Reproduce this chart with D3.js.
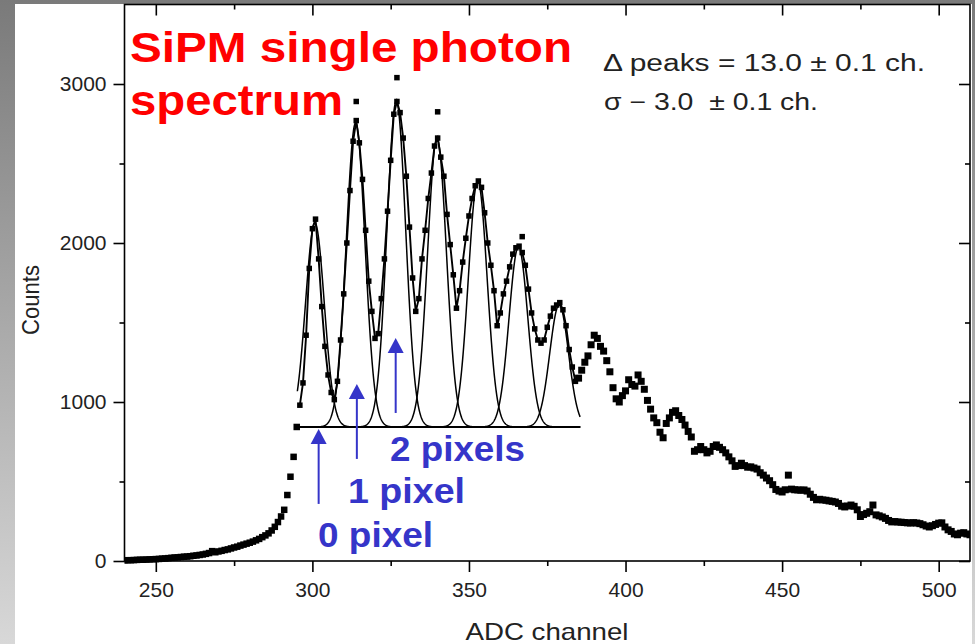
<!DOCTYPE html>
<html><head><meta charset="utf-8">
<script src="https://cdn.jsdelivr.net/npm/d3@7"></script>
<style>html,body{margin:0;padding:0;background:#fff;} svg{display:block;}</style>
</head><body><svg id="chart" width="975" height="644"></svg>
<script>
// ---------- data ----------
const xTicks = [250, 300, 350, 400, 450, 500];
const xMinorTicks = [275, 325, 375, 425, 475];
const yTicks = [0, 1000, 2000, 3000];
const yMinorTicks = [500, 1500, 2500];

// full spectrum below the fit region (channels 240..295)
const spectrumLowStart = 240;
const spectrumLowCounts = [4,5,5,6,7,8,8,9,10,11,12,13,15,16,18,20,22,23,25,27,28,30,33,35,38,41,45,50,62,55,60,64,69,73,79,85,90,97,103,109,115,122,130,139,150,161,174,192,215,245,280,322,415,530,655,843];

// fit region data (line + symbols), channels 296..384
const peakStart = 296;
const peakCounts = [980,1120,1420,1840,2090,2150,1900,1600,1350,1170,1060,1015,
  1130,1390,1680,2000,2330,2640,2770,2630,2400,2080,1760,1570,1400,
  1430,1650,1900,2200,2520,2810,2890,2820,2660,2420,2100,1780,1570,
  1650,1900,2080,2280,2440,2610,2660,2540,2420,2180,1990,1800,1590,
  1700,1880,2030,2170,2280,2360,2390,2350,2190,2000,1860,1700,1480,
  1560,1680,1760,1850,1930,1970,1980,1940,1860,1710,1560,1460,1390,1370,
  1390,1470,1540,1590,1610,1625,1580,1480,1330,1220,1130];

// spectrum tail, channels 385..510
const tailStart = 385;
const tailCounts = [1150,1200,1250,1290,1360,1420,1400,1350,1320,1260,1190,1090,1020,1000,1040,1070,
  1140,1110,1100,1170,1130,1080,1010,955,900,870,810,775,865,900,935,945,915,890,855,815,780,
  690,700,720,700,680,690,720,730,715,700,680,655,630,595,600,615,600,590,592,585,578,555,540,
  522,505,480,450,440,434,448,540,452,448,447,445,447,440,420,400,385,388,384,382,378,375,371,
  362,345,340,346,352,344,322,280,292,300,310,352,290,284,277,268,255,246,248,245,244,242,240,
  239,241,239,235,228,220,214,222,230,238,240,214,196,186,170,165,175,178,170,165];

// isolated points above some peaks
const extraChannels = [314, 327, 340, 367];
const extraCounts = [2890, 3040, 2825, 2040];

// gaussian fit parameters
const peakCenters = [300.8, 313.8, 326.8, 339.8, 352.8, 365.8, 378.8];
const peakAmplitudes = [1283, 1912, 2050, 1817, 1547, 1132, 767];
const fitSigma = 3.0;
const fitBaseline = 843;
const fitRange = [295.2, 385.5];

// arrows (channel, tip count, tail count)
const arrowChannels = [302.0, 314.2, 326.6];
const arrowTipCounts = [830, 1113, 1403];
const arrowTailCounts = [359, 642, 931];

// ---------- drawing ----------
const W = 975, H = 644;
const FONT = "'Liberation Sans', Arial, Helvetica, sans-serif";
const svg = d3.select('#chart');
const defs = svg.append('defs');
const grad = defs.append('linearGradient').attr('id', 'bg')
  .attr('x1', 0).attr('y1', 0).attr('x2', 0).attr('y2', 1);
grad.append('stop').attr('offset', '0%').attr('stop-color', '#7a7a7a');
grad.append('stop').attr('offset', '100%').attr('stop-color', '#d8d8d8');
svg.append('rect').attr('width', W).attr('height', H).attr('fill', 'url(#bg)');
svg.append('rect').attr('x', 15).attr('y', 4).attr('width', 957).attr('height', 640).attr('fill', '#fff');

const x = d3.scaleLinear().domain([240, 510]).range([124.5, 970]);
const y = d3.scaleLinear().domain([0, 3500]).range([561, 4.5]);

defs.append('clipPath').attr('id', 'plotclip').append('rect')
  .attr('x', 124.5).attr('y', 4.5).attr('width', 845.5).attr('height', 560);

function styleAxis(g) {
  g.select('.domain').remove();
  g.selectAll('line').attr('stroke', '#000').attr('stroke-width', 1.6);
  g.selectAll('text').attr('font-family', FONT).attr('font-size', 21).attr('fill', '#222');
}
// bottom
svg.append('g').attr('transform', 'translate(0,561)')
  .call(d3.axisBottom(x).tickValues(xTicks).tickSize(11).tickPadding(10).tickFormat(d3.format('d')))
  .call(styleAxis);
svg.append('g').attr('transform', 'translate(0,561)')
  .call(d3.axisBottom(x).tickValues(xMinorTicks).tickSize(5).tickFormat(''))
  .call(styleAxis);
// top
svg.append('g').attr('transform', 'translate(0,4.5)')
  .call(d3.axisTop(x).tickValues(xTicks).tickSize(-11).tickFormat(''))
  .call(styleAxis);
svg.append('g').attr('transform', 'translate(0,4.5)')
  .call(d3.axisTop(x).tickValues(xMinorTicks).tickSize(-5).tickFormat(''))
  .call(styleAxis);
// left
svg.append('g').attr('transform', 'translate(124.5,0)')
  .call(d3.axisLeft(y).tickValues(yTicks).tickSize(11).tickPadding(7).tickFormat(d3.format('d')))
  .call(styleAxis);
svg.append('g').attr('transform', 'translate(124.5,0)')
  .call(d3.axisLeft(y).tickValues(yMinorTicks).tickSize(5).tickFormat(''))
  .call(styleAxis);
// right
svg.append('g').attr('transform', 'translate(970,0)')
  .call(d3.axisRight(y).tickValues(yTicks).tickSize(-11).tickFormat(''))
  .call(styleAxis);
svg.append('g').attr('transform', 'translate(970,0)')
  .call(d3.axisRight(y).tickValues(yMinorTicks).tickSize(-5).tickFormat(''))
  .call(styleAxis);

// frame
svg.append('rect').attr('x', 124.5).attr('y', 4.5).attr('width', 845.5).attr('height', 556.5)
  .attr('fill', 'none').attr('stroke', '#000').attr('stroke-width', 1.6);

const plot = svg.append('g').attr('clip-path', 'url(#plotclip)');

// gaussian fit components
const fitXs = d3.range(fitRange[0], fitRange[1] + 1e-6, 0.1);
const lineGen = d3.line().x(d => x(d[0])).y(d => y(d[1]));
peakCenters.forEach((c, i) => {
  const pts = fitXs.map(ch => [ch, fitBaseline + peakAmplitudes[i] * Math.exp(-((ch - c) ** 2) / (2 * fitSigma * fitSigma))]);
  plot.append('path').attr('d', lineGen(pts)).attr('fill', 'none')
    .attr('stroke', '#000').attr('stroke-width', 1.5);
});
plot.append('path').attr('d', lineGen([[fitRange[0], fitBaseline], [fitRange[1], fitBaseline]]))
  .attr('fill', 'none').attr('stroke', '#000').attr('stroke-width', 1.7);

// fit-region data line
const peakData = peakCounts.map((c, i) => [peakStart + i, c]);
plot.append('path').attr('d', lineGen(peakData)).attr('fill', 'none')
  .attr('stroke', '#000').attr('stroke-width', 1.9);

function squares(data, s) {
  plot.append('g').selectAll('rect').data(data).join('rect')
    .attr('x', d => x(d[0]) - s / 2).attr('y', d => y(d[1]) - s / 2)
    .attr('width', s).attr('height', s).attr('fill', '#000');
}
squares(peakData, 5.5);
squares(spectrumLowCounts.map((c, i) => [spectrumLowStart + i, c]), 6.5);
squares(tailCounts.map((c, i) => [tailStart + i, c]), 7);
squares(extraChannels.map((ch, i) => [ch, extraCounts[i]]), 5.5);

// arrows
const BLUE = '#3535c9';
arrowChannels.forEach((ch, i) => {
  const ax = x(ch), ty = y(arrowTipCounts[i]), by = y(arrowTailCounts[i]);
  svg.append('line').attr('x1', ax).attr('x2', ax).attr('y1', ty + 12).attr('y2', by)
    .attr('stroke', BLUE).attr('stroke-width', 2);
  svg.append('path').attr('d', `M${ax},${ty} L${ax - 8},${ty + 15} L${ax + 8},${ty + 15} Z`).attr('fill', BLUE);
});

// texts
function txt(str, px, py, size, opts) {
  const t = svg.append('text').attr('x', px).attr('y', py).text(str)
    .attr('font-family', FONT).attr('font-size', size)
    .attr('fill', opts.fill || '#222').attr('font-weight', opts.weight || 'normal')
    .style('white-space', 'pre');
  if (opts.len) t.attr('textLength', opts.len).attr('lengthAdjust', 'spacingAndGlyphs');
  if (opts.anchor) t.attr('text-anchor', opts.anchor);
  return t;
}
txt('SiPM single photon', 130, 62, 42, { fill: '#ff0000', weight: 'bold', len: 442 });
txt('spectrum', 130, 115, 42, { fill: '#ff0000', weight: 'bold', len: 213 });
txt('\u0394 peaks = 13.0 \u00b1 0.1 ch.', 603, 71, 23, { fill: '#222', len: 322 });
txt('\u03c3 \u2212 3.0  \u00b1 0.1 ch.', 604, 110, 23, { fill: '#222', len: 214 });
txt('2 pixels', 390, 461, 35, { fill: BLUE, weight: 'bold', len: 135 });
txt('1 pixel', 348, 503, 35, { fill: BLUE, weight: 'bold', len: 117 });
txt('0 pixel', 318, 547, 35, { fill: BLUE, weight: 'bold', len: 115 });
txt('ADC channel', 547, 640, 24, { fill: '#222', anchor: 'middle', len: 163 });
svg.append('text').attr('transform', 'translate(39,300) rotate(-90)')
  .attr('text-anchor', 'middle').attr('font-family', FONT).attr('font-size', 23)
  .attr('fill', '#222').attr('textLength', 70).attr('lengthAdjust', 'spacingAndGlyphs').text('Counts');
</script></body></html>
